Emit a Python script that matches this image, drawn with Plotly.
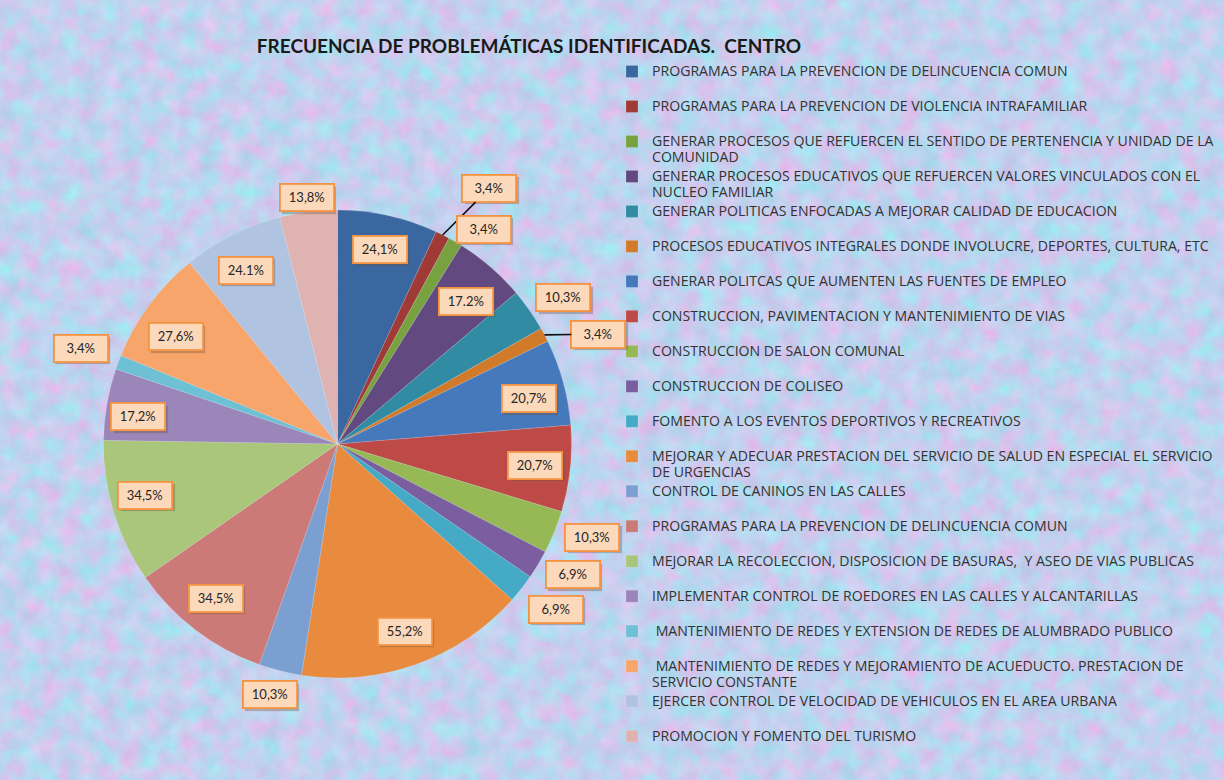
import base64
import math
import plotly.graph_objects as go

# datos
problematicas = [
    "PROGRAMAS PARA LA PREVENCION DE DELINCUENCIA COMUN",
    "PROGRAMAS PARA LA PREVENCION DE VIOLENCIA INTRAFAMILIAR",
    "GENERAR PROCESOS QUE REFUERCEN EL SENTIDO DE PERTENENCIA Y UNIDAD DE LA<br>COMUNIDAD",
    "GENERAR PROCESOS EDUCATIVOS QUE REFUERCEN VALORES VINCULADOS CON EL<br>NUCLEO FAMILIAR",
    "GENERAR POLITICAS ENFOCADAS A MEJORAR CALIDAD DE EDUCACION",
    "PROCESOS EDUCATIVOS INTEGRALES DONDE INVOLUCRE, DEPORTES, CULTURA, ETC",
    "GENERAR POLITCAS QUE AUMENTEN LAS FUENTES DE EMPLEO",
    "CONSTRUCCION, PAVIMENTACION Y MANTENIMIENTO DE VIAS",
    "CONSTRUCCION DE SALON COMUNAL",
    "CONSTRUCCION DE COLISEO",
    "FOMENTO A LOS EVENTOS DEPORTIVOS Y RECREATIVOS",
    "MEJORAR Y ADECUAR PRESTACION DEL SERVICIO DE SALUD EN ESPECIAL EL SERVICIO<br>DE URGENCIAS",
    "CONTROL DE CANINOS EN LAS CALLES",
    "PROGRAMAS PARA LA PREVENCION DE DELINCUENCIA COMUN",
    "MEJORAR LA RECOLECCION, DISPOSICION DE BASURAS,  Y ASEO DE VIAS PUBLICAS",
    "IMPLEMENTAR CONTROL DE ROEDORES EN LAS CALLES Y ALCANTARILLAS",
    " MANTENIMIENTO DE REDES Y EXTENSION DE REDES DE ALUMBRADO PUBLICO",
    " MANTENIMIENTO DE REDES Y MEJORAMIENTO DE ACUEDUCTO. PRESTACION DE<br>SERVICIO CONSTANTE",
    "EJERCER CONTROL DE VELOCIDAD DE VEHICULOS EN EL AREA URBANA",
    "PROMOCION Y FOMENTO DEL TURISMO",
]
porcentajes = [24.1, 3.4, 3.4, 17.2, 10.3, 3.4, 20.7, 20.7, 10.3, 6.9,
               6.9, 55.2, 10.3, 34.5, 34.5, 17.2, 3.4, 27.6, 24.1, 13.8]
etiquetas = ["24,1%", "3,4%", "3,4%", "17.2%", "10,3%", "3,4%", "20,7%", "20,7%",
             "10,3%", "6,9%", "6,9%", "55,2%", "10,3%", "34,5%", "34,5%", "17,2%",
             "3,4%", "27,6%", "24.1%", "13,8%"]

# estilo
colores = ["#3a679f", "#a03a36", "#78a13f", "#62497f", "#318ba2", "#d07a2a",
           "#4679bb", "#be4a47", "#96b955", "#7b5ea0", "#45aac6", "#e98b3e",
           "#7b9fd0", "#cc7a78", "#a9c67a", "#9b86b9", "#6ec0d5", "#f7a56b",
           "#b0c3e0", "#dfb3b1"]
radio_etiqueta = [0.85, 1.27, 1.11, 0.82, 1.15, 1.21, 0.84, 0.85, 1.16, 1.15,
                  1.17, 0.85, 1.11, 0.84, 0.85, 0.86, 1.17, 0.83, 0.84, 1.06]
giro_etiqueta = [0, 4, 4, 1, 2, 5, 2, 0, -2, -2, -1, 0, 1, 1, 2, -2, 0, -3, -1, 0]
con_guia = [False, True, False, False, False, True, False, False, False, False,
            False, False, False, False, False, False, False, False, False, False]

W, H = 1224, 780
cx, cy, R = 337.5, 444.0, 234.0

# nombres de leyenda: todas las entradas ocupan dos lineas como en Excel,
# texto algo mayor que el paso de linea (Calibri en el original)
nombres = []
for p in problematicas:
    lineas = p.split("<br>")
    if len(lineas) == 1:
        lineas.append(" ")
    n = "<br>".join(f"<span style='font-size:14.1px'>{t}</span>" for t in lineas)
    while n in nombres:
        n += " "
    nombres.append(n)

fig = go.Figure(go.Pie(
    labels=nombres,
    values=porcentajes,
    sort=False,
    direction="clockwise",
    rotation=0,
    textinfo="none",
    hoverinfo="label+value",
    marker=dict(colors=colores, line=dict(color="rgba(255,255,255,0.25)", width=0.6)),
    domain=dict(x=[(cx - R) / W, (cx + R) / W], y=[1 - (cy + R) / H, 1 - (cy - R) / H]),
))

total = sum(porcentajes)
acum = 0.0
sombras = []
cajas = []
for i, v in enumerate(porcentajes):
    medio = (acum + v / 2) / total * 2 * math.pi
    acum += v
    a = medio + math.radians(giro_etiqueta[i])
    r = radio_etiqueta[i] * R
    lx = cx + r * math.sin(a)
    ly = cy - r * math.cos(a)
    base = dict(xref="paper", yref="paper", borderwidth=1.8, borderpad=3,
                width=46, height=19, xanchor="center", yanchor="middle")
    sombras.append(dict(base, text=" ", x=lx / W, y=1 - ly / H, showarrow=False,
                        xshift=2.5, yshift=-2.5, bgcolor="rgba(110,80,60,0.35)",
                        bordercolor="rgba(0,0,0,0)", font=dict(size=13)))
    caja = dict(base, text=etiquetas[i], font=dict(family="Lato", size=13, color="#262626"),
                bgcolor="#fcd9bb", bordercolor="#f39240")
    if con_guia[i]:
        tx = cx + R * math.sin(medio)
        ty = cy - R * math.cos(medio)
        caja.update(x=tx / W, y=1 - ty / H, ax=lx - tx, ay=ly - ty, showarrow=True,
                    arrowhead=0, arrowwidth=1.6, arrowcolor="#111111", standoff=0)
    else:
        caja.update(x=lx / W, y=1 - ly / H, showarrow=False)
    cajas.append(caja)

# textura de fondo tipo papel
svg = (
    f"<svg xmlns='http://www.w3.org/2000/svg' width='{W}' height='{H}'>"
    "<filter id='t' x='0' y='0' width='100%' height='100%' color-interpolation-filters='sRGB'>"
    "<feTurbulence type='fractalNoise' baseFrequency='0.05' numOctaves='5' seed='7'/>"
    "<feColorMatrix type='matrix' values='0.4 0 0 0 0.56  -0.2 0.14 0 0 0.85  0 0.08 0 0 0.895  0 0 0 0 1'/>"
    "</filter>"
    f"<rect width='{W}' height='{H}' filter='url(#t)'/></svg>"
)
fondo = "data:image/svg+xml;base64," + base64.b64encode(svg.encode()).decode()

fig.update_layout(
    width=W, height=H,
    margin=dict(l=0, r=0, t=0, b=0, autoexpand=False),
    paper_bgcolor="#c8d0ec",
    plot_bgcolor="#c8d0ec",
    title=dict(text="FRECUENCIA DE PROBLEMÁTICAS IDENTIFICADAS.  CENTRO",
               x=529 / W, xanchor="center", y=1 - 46 / H, yanchor="middle",
               font=dict(family="Lato", size=19, color="#1a1a1a", weight="bold")),
    legend=dict(x=612 / W, xanchor="left", y=1 - 57 / H, yanchor="top",
                valign="top", bgcolor="rgba(0,0,0,0)", borderwidth=0,
                font=dict(family="Open Sans", size=12.3, color="#333333")),
    annotations=sombras + cajas,
    images=[dict(source=fondo, xref="paper", yref="paper", x=0, y=1, sizex=1, sizey=1,
                 sizing="stretch", layer="below")],
)

fig.write_html("out.html", config={"displayModeBar": False},
               post_script="document.body.style.margin='0';")
